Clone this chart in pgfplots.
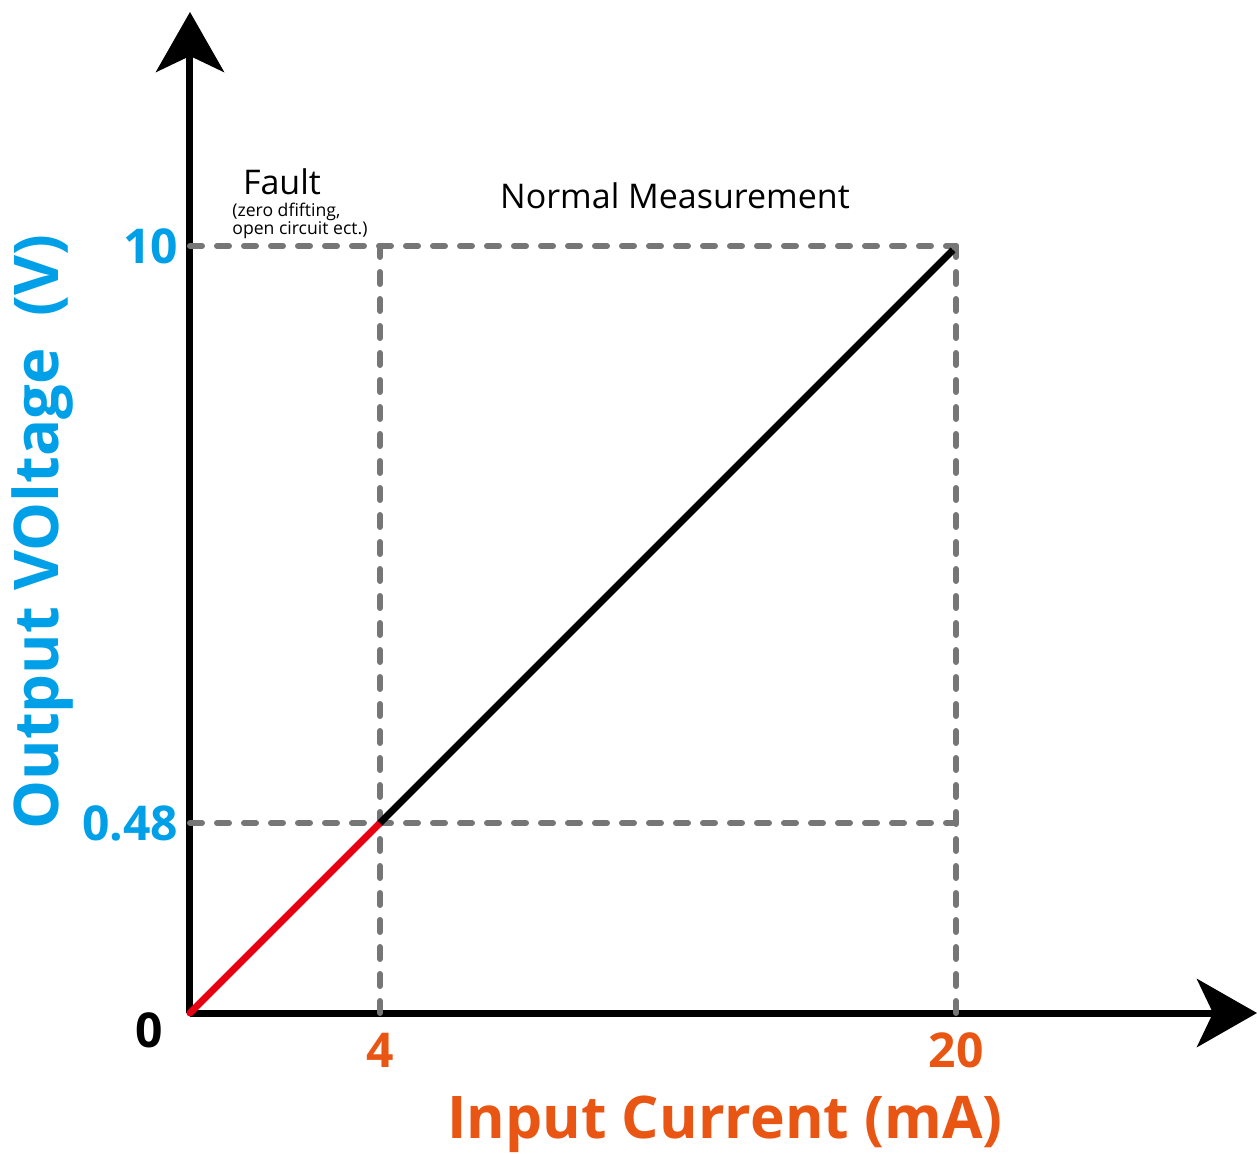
\documentclass[border=0pt]{standalone}
\usepackage{pgfplots}
\pgfplotsset{compat=1.18}
\usepackage{fontspec}
\setmainfont{Open Sans}
\usetikzlibrary{arrows.meta}

\definecolor{voltblue}{RGB}{0,160,233}
\definecolor{curorange}{RGB}{233,85,19}
\definecolor{faultred}{RGB}{230,0,18}
\definecolor{guide}{RGB}{118,118,118}

% schematic chart: positions are in picture units (not to scale),
% the real values are carried by the tick labels
\begin{document}
\begin{tikzpicture}
\begin{axis}[
    x=0.5pt, y=0.5pt,
    xmin=0, xmax=1067,
    ymin=0, ymax=1001,
    enlargelimits=false,
    clip=false,
    axis lines=left,
    axis line style={line width=3.5pt, -{Stealth[length=30pt,width=34pt,inset=8pt]}},
    major tick length=0pt,
    xtick={190,766}, xticklabels={4,20},
    ytick={190,767}, yticklabels={0.48,10},
    xticklabel style={font=\bfseries\fontsize{24}{28}\selectfont, text=curorange, yshift=-6.5pt},
    yticklabel style={font=\bfseries\fontsize{24}{28}\selectfont, text=voltblue, xshift=-2.5pt},
    xlabel={Input Current (mA)},
    ylabel={Output VOltage\ \ (V)},
    xlabel style={at={(axis description cs:0.5014,-0.1114)}, anchor=center,
                  font=\bfseries\fontsize{29.4}{34}\selectfont, text=curorange},
    ylabel style={at={(axis description cs:-0.1387,0.4805)}, anchor=center,
                  font=\bfseries\fontsize{30.8}{34}\selectfont, text=voltblue},
]
% guide lines
\addplot[guide, line width=3pt, line cap=round, dash pattern=on 6pt off 7.5pt]
    coordinates {(0,767) (766,767)};
\addplot[guide, line width=3pt, line cap=round, dash pattern=on 6pt off 7.5pt]
    coordinates {(0,190) (766,190)};
\addplot[guide, line width=3pt, line cap=round, dash pattern=on 6pt off 7.5pt]
    coordinates {(190,0) (190,767)};
\addplot[guide, line width=3pt, line cap=round, dash pattern=on 6pt off 7.5pt]
    coordinates {(766,0) (766,767)};
% transfer curve
\addplot[faultred, line width=3.5pt, line cap=round] coordinates {(0,0) (190,190)};
\addplot[black, line width=3.5pt] coordinates {(190,190) (763,763)};

\node[font=\bfseries\fontsize{24}{28}\selectfont] at (axis cs:-41,-17) {0};
\node[font=\fontsize{17}{20}\selectfont, inner sep=1pt] at (axis cs:92,831) {Fault};
\node[font=\fontsize{8.8}{9}\selectfont, align=left, anchor=north west, inner sep=0pt]
    at (axis cs:42,810) {(zero dfifting,\\ open circuit ect.)};
\node[font=\fontsize{17}{20}\selectfont] at (axis cs:485,817) {Normal Measurement};

\coordinate (bl) at (axis cs:-190,-140);
\coordinate (tr) at (axis cs:1067,1013);
\end{axis}
\pgfresetboundingbox
\path (bl) rectangle (tr);
\end{tikzpicture}
\end{document}
